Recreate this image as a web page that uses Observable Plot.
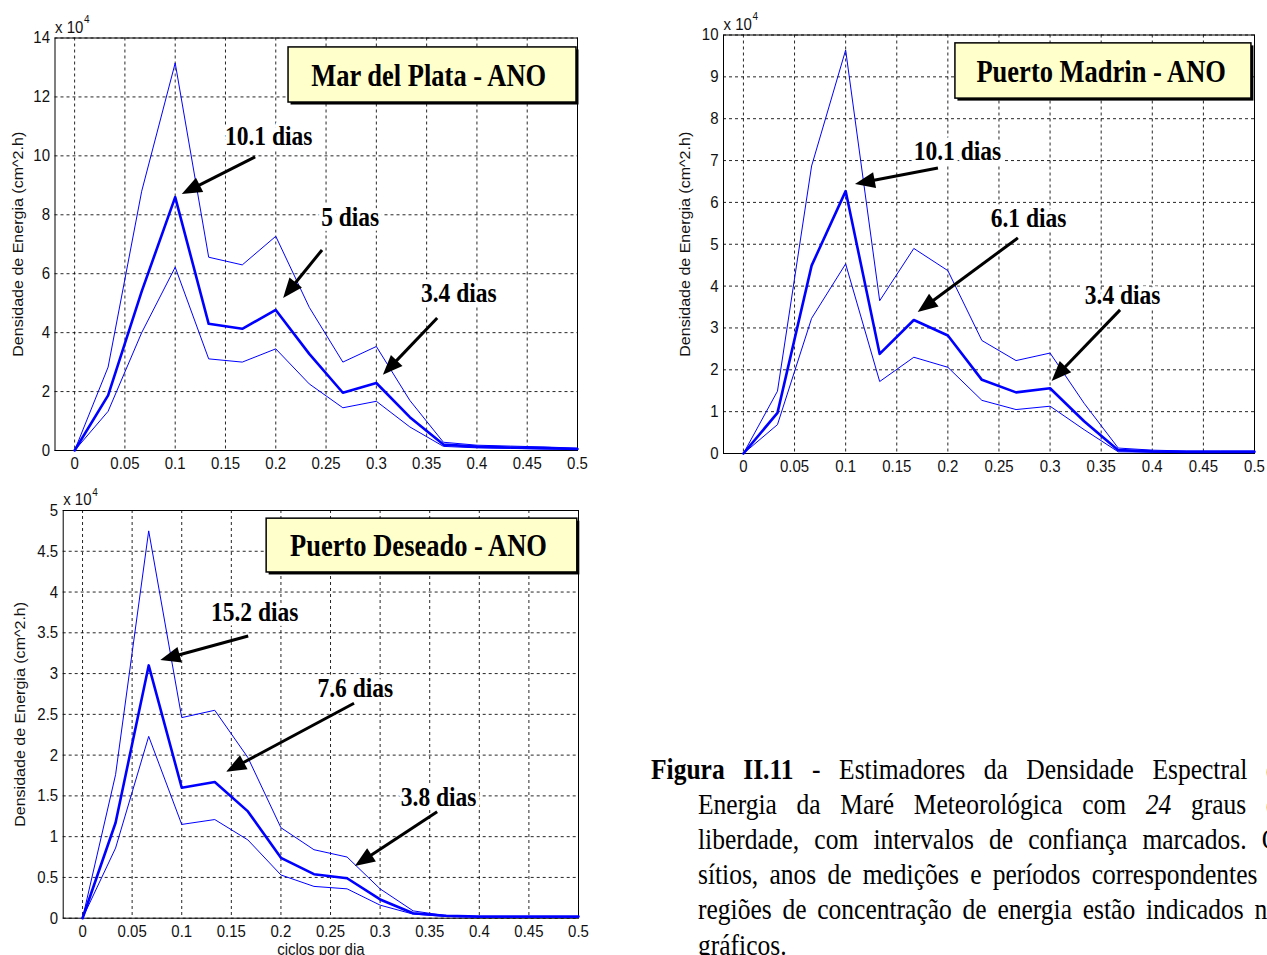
<!DOCTYPE html>
<html><head><meta charset="utf-8">
<script src="https://cdn.jsdelivr.net/npm/d3@7"></script>
<script src="https://cdn.jsdelivr.net/npm/@observablehq/plot@0.6"></script>
<style>
html,body{margin:0;padding:0;background:#fff;overflow:hidden;}
#root{position:relative;width:1267px;height:955px;overflow:hidden;background:#fff;}
.panel{position:absolute;}
.panel svg{overflow:visible;}
.capline{position:absolute;display:flex;justify-content:space-between;gap:5px;white-space:nowrap;
  font-family:"Liberation Serif","Times New Roman",serif;font-size:25.5px;line-height:35px;color:#000;
  transform:scaleY(1.15);transform-origin:50% 50%;}
.capline.last{justify-content:flex-start;}
</style></head><body><div id="root"></div>
<script>
// ---------- data (values in units of 10^4 cm^2.h) ----------
const freq = [0, 0.0333, 0.0667, 0.1, 0.1333, 0.1667, 0.2, 0.2333, 0.2667, 0.3, 0.3333, 0.3667, 0.4, 0.4333, 0.4667, 0.5];
const xTicks = [0, 0.05, 0.1, 0.15, 0.2, 0.25, 0.3, 0.35, 0.4, 0.45, 0.5];

const mdpMean  = [0, 1.87, 5.4, 8.6, 4.3, 4.13, 4.77, 3.28, 1.96, 2.29, 1.13, 0.2, 0.13, 0.1, 0.08, 0.05];
const mdpUpper = [0, 2.83, 8.8, 13.15, 6.56, 6.3, 7.27, 4.86, 3.0, 3.53, 1.7, 0.28, 0.18, 0.15, 0.12, 0.08];
const mdpLower = [0, 1.33, 4.0, 6.22, 3.11, 3.0, 3.45, 2.26, 1.45, 1.67, 0.8, 0.14, 0.09, 0.07, 0.05, 0.04];
const mdpYTicks = [0, 2, 4, 6, 8, 10, 12, 14];

const pmMean  = [0, 0.97, 4.49, 6.27, 2.38, 3.19, 2.82, 1.76, 1.46, 1.56, 0.77, 0.08, 0.05, 0.04, 0.04, 0.04];
const pmUpper = [0, 1.49, 6.87, 9.64, 3.65, 4.9, 4.37, 2.7, 2.22, 2.4, 1.2, 0.13, 0.08, 0.06, 0.06, 0.06];
const pmLower = [0, 0.69, 3.23, 4.53, 1.72, 2.3, 2.06, 1.27, 1.05, 1.13, 0.57, 0.04, 0.03, 0.03, 0.03, 0.03];
const pmYTicks = [0, 1, 2, 3, 4, 5, 6, 7, 8, 9, 10];

const pdMean  = [0, 1.17, 3.1, 1.6, 1.67, 1.31, 0.74, 0.54, 0.49, 0.23, 0.06, 0.03, 0.02, 0.02, 0.02, 0.02];
const pdUpper = [0, 1.76, 4.75, 2.46, 2.55, 1.97, 1.11, 0.84, 0.75, 0.36, 0.09, 0.03, 0.02, 0.02, 0.02, 0.02];
const pdLower = [0, 0.86, 2.23, 1.15, 1.21, 0.96, 0.53, 0.39, 0.36, 0.16, 0.05, 0.02, 0.01, 0.01, 0.01, 0.01];
const pdYTicks = [0, 0.5, 1, 1.5, 2, 2.5, 3, 3.5, 4, 4.5, 5];

const titles = ["Mar del Plata - ANO", "Puerto Madrin - ANO", "Puerto Deseado - ANO"];
const yLabel = "Densidade de Energia (cm^2.h)";
const xLabel = "ciclos por dia";

// annotations (data coordinates: frequency, energy/10^4)
const mdpNotes = [
  {label: "10.1 dias", tx: 0.193, ty: 10.69, x1: 0.180, y1: 9.95, x2: 0.107, y2: 8.69},
  {label: "5 dias",    tx: 0.274, ty: 7.94,  x1: 0.2465, y1: 6.79, x2: 0.2078, y2: 5.16},
  {label: "3.4 dias",  tx: 0.382, ty: 5.36,  x1: 0.361, y1: 4.48, x2: 0.307, y2: 2.55}
];
const pmNotes = [
  {label: "10.1 dias", tx: 0.2094, ty: 7.24, x1: 0.1908, y1: 6.81, x2: 0.1096, y2: 6.43},
  {label: "6.1 dias",  tx: 0.2789, ty: 5.64, x1: 0.269, y1: 5.14, x2: 0.171, y2: 3.37},
  {label: "3.4 dias",  tx: 0.371, ty: 3.80,  x1: 0.369, y1: 3.42, x2: 0.302, y2: 1.72}
];
const pdNotes = [
  {label: "15.2 dias", tx: 0.1735, ty: 3.76, x1: 0.1675, y1: 3.455, x2: 0.0789, y2: 3.16},
  {label: "7.6 dias",  tx: 0.275, ty: 2.82,  x1: 0.2742, y1: 2.63, x2: 0.1453, y2: 1.79},
  {label: "3.8 dias",  tx: 0.359, ty: 1.49,  x1: 0.358, y1: 1.30, x2: 0.275, y2: 0.635}
];
const mdpBox = {x1: 0.2127, x2: 0.499, y1: 11.81, y2: 13.68, tx: 0.352, ty: 12.73};
const pmBox  = {x1: 0.2074, x2: 0.497, y1: 8.48, y2: 9.80, tx: 0.350, ty: 9.13};
const pdBox  = {x1: 0.1856, x2: 0.4988, y1: 4.24, y2: 4.90, tx: 0.3387, ty: 4.57};

const captionLines = [
  [["Figura","b"],["II.11","b"],"-","Estimadores","da","Densidade","Espectral","de"],
  ["Energia","da","Maré","Meteorológica","com",["24","i"],"graus","de"],
  ["liberdade,","com","intervalos","de","confiança","marcados.","Os"],
  ["sítios,","anos","de","medições","e","períodos","correspondentes","às"],
  ["regiões","de","concentração","de","energia","estão","indicados","nos"],
  ["gráficos."]
];

// ---------- drawing ----------
const xDomain = [-0.0195, 0.5];
const blue = "#0000ff";
const serif = "'Liberation Serif','Times New Roman',serif";
const sans = "'Liberation Sans',Arial,sans-serif";

function arrowMark(notes) {
  return (index, scales) => {
    const g = d3.create("svg:g");
    for (const a of notes) {
      const x1 = scales.x(a.x1), y1 = scales.y(a.y1), x2 = scales.x(a.x2), y2 = scales.y(a.y2);
      const ang = Math.atan2(y2 - y1, x2 - x1);
      const L = 20, W = 8;
      const bx = x2 - L * Math.cos(ang), by = y2 - L * Math.sin(ang);
      const px = -Math.sin(ang) * W, py = Math.cos(ang) * W;
      g.append("line").attr("x1", x1).attr("y1", y1)
        .attr("x2", x2 - (L - 2) * Math.cos(ang)).attr("y2", y2 - (L - 2) * Math.sin(ang))
        .attr("stroke", "#000").attr("stroke-width", 3);
      g.append("path").attr("d", `M${x2},${y2}L${bx + px},${by + py}L${bx - px},${by - py}Z`).attr("fill", "#000");
    }
    return g.node();
  };
}

// the reference figure is stretched vertically: stretch each text glyph about its centre
function stretchTexts(svg) {
  svg.querySelectorAll("text").forEach(t => {
    if (!t.textContent) return;
    const bb = t.getBBox();
    const tr = t.getAttribute("transform") || "";
    const rotated = /rotate\(\s*-?90/.test(tr) || /rotate\(\s*-?90/.test(t.parentNode.getAttribute("transform") || "");
    const serifText = (t.getAttribute("font-family") || t.parentNode.getAttribute("font-family") || "").includes("Serif");
    const s = serifText ? 1.2 : 1.12;
    let add;
    if (rotated) {
      const cx = bb.x + bb.width / 2;
      add = ` translate(${cx},0) scale(1.07,1) translate(${-cx},0)`;
    } else {
      const cy = bb.y + bb.height / 2;
      add = ` translate(0,${cy}) scale(1,${s}) translate(0,${-cy})`;
    }
    t.setAttribute("transform", tr + add);
  });
}

function panel(cfg) {
  const rows = freq.map((f, i) => ({f, m: cfg.mean[i], u: cfg.upper[i], l: cfg.lower[i]}));
  const marks = [
    Plot.gridX(xTicks, {stroke: "#000", strokeOpacity: 0.85, strokeDasharray: "3,3"}),
    Plot.gridY(cfg.yTicks, {stroke: "#000", strokeOpacity: 0.85, strokeDasharray: "3,3"}),
    Plot.axisX(xTicks, {tickSize: 0, tickPadding: 7, label: null, tickFormat: d => String(d), fontSize: 15, fill: "#111"}),
    Plot.axisY(cfg.yTicks, {tickSize: 0, tickPadding: 5, label: null, tickFormat: d => String(d), fontSize: 15, fill: "#111"}),
    Plot.frame({stroke: "#000"}),
    Plot.line(rows, {x: "f", y: "u", stroke: blue, strokeWidth: 1}),
    Plot.line(rows, {x: "f", y: "l", stroke: blue, strokeWidth: 1}),
    Plot.line(rows, {x: "f", y: "m", stroke: blue, strokeWidth: 2.6}),
    Plot.rect([cfg.box], {x1: "x1", x2: "x2", y1: "y1", y2: "y2", fill: "#000", dx: 2.5, dy: 2.5}),
    Plot.rect([cfg.box], {x1: "x1", x2: "x2", y1: "y1", y2: "y2", fill: "#ffffcc", stroke: "#000", strokeWidth: 1.5}),
    Plot.text([cfg.box], {x: "tx", y: "ty", text: () => cfg.title, fontFamily: serif, fontWeight: "bold", fontSize: 26.5, fill: "#000"}),
    Plot.text(cfg.notes, {x: "tx", y: "ty", text: "label", fontFamily: serif, fontWeight: "bold", fontSize: 23.5, fill: "#000", stroke: "white", strokeWidth: 8}),
    arrowMark(cfg.notes),
    Plot.text([yLabel], {frameAnchor: "left", textAnchor: "middle", rotate: -90, dx: -(cfg.ml - cfg.labelX), fontSize: 15, fontFamily: sans, fill: "#111"}),
    Plot.text(["x 10"], {frameAnchor: "top-left", textAnchor: "start", lineAnchor: "bottom", dy: -6, fontSize: 15, fontFamily: sans, fill: "#111"}),
    Plot.text(["4"], {frameAnchor: "top-left", textAnchor: "start", lineAnchor: "bottom", dx: 29, dy: -15, fontSize: 10, fontFamily: sans, fill: "#111"})
  ];
  if (cfg.xLabel) marks.push(Plot.text([cfg.xLabel], {frameAnchor: "bottom", lineAnchor: "top", dy: 25, fontSize: 15, fontFamily: sans, fill: "#111"}));
  const chart = Plot.plot({
    width: cfg.w, height: cfg.h,
    marginLeft: cfg.ml, marginRight: cfg.mr, marginTop: cfg.mt, marginBottom: cfg.mb,
    style: {fontFamily: sans, fontSize: "15px", background: "white", color: "#000"},
    x: {domain: xDomain},
    y: {domain: cfg.yDomain},
    marks
  });
  const div = document.createElement("div");
  div.className = "panel";
  div.style.left = cfg.left + "px";
  div.style.top = cfg.top + "px";
  div.appendChild(chart);
  document.getElementById("root").appendChild(div);
  stretchTexts(chart);
}

panel({left: 0, top: 0, w: 600, h: 480, ml: 54.5, mr: 23, mt: 37.5, mb: 30, labelX: 18,
  yDomain: [0, 14], yTicks: mdpYTicks, mean: mdpMean, upper: mdpUpper, lower: mdpLower,
  notes: mdpNotes, box: mdpBox, title: titles[0]});
panel({left: 640, top: 0, w: 627, h: 480, ml: 83, mr: 13, mt: 34.5, mb: 27, labelX: 45,
  yDomain: [0, 10], yTicks: pmYTicks, mean: pmMean, upper: pmUpper, lower: pmLower,
  notes: pmNotes, box: pmBox, title: titles[1]});
panel({left: 0, top: 480, w: 600, h: 475, ml: 62.7, mr: 22, mt: 30, mb: 37.3, labelX: 20,
  yDomain: [0, 5], yTicks: pdYTicks, mean: pdMean, upper: pdUpper, lower: pdLower,
  notes: pdNotes, box: pdBox, title: titles[2], xLabel});

// caption
const root = document.getElementById("root");
captionLines.forEach((words, i) => {
  const line = document.createElement("div");
  const last = i === captionLines.length - 1;
  line.className = "capline" + (last ? " last" : "");
  const left = i === 0 ? 651 : 698;
  line.style.left = left + "px";
  line.style.width = last ? "auto" : (1290 - left) + "px";
  line.style.top = (751.5 + i * 35.2) + "px";
  for (const w of words) {
    const s = document.createElement("span");
    if (Array.isArray(w)) {
      s.textContent = w[0];
      if (w[1] === "b") s.style.fontWeight = "bold";
      if (w[1] === "i") s.style.fontStyle = "italic";
    } else s.textContent = w;
    line.appendChild(s);
  }
  root.appendChild(line);
});
</script>
</body></html>
